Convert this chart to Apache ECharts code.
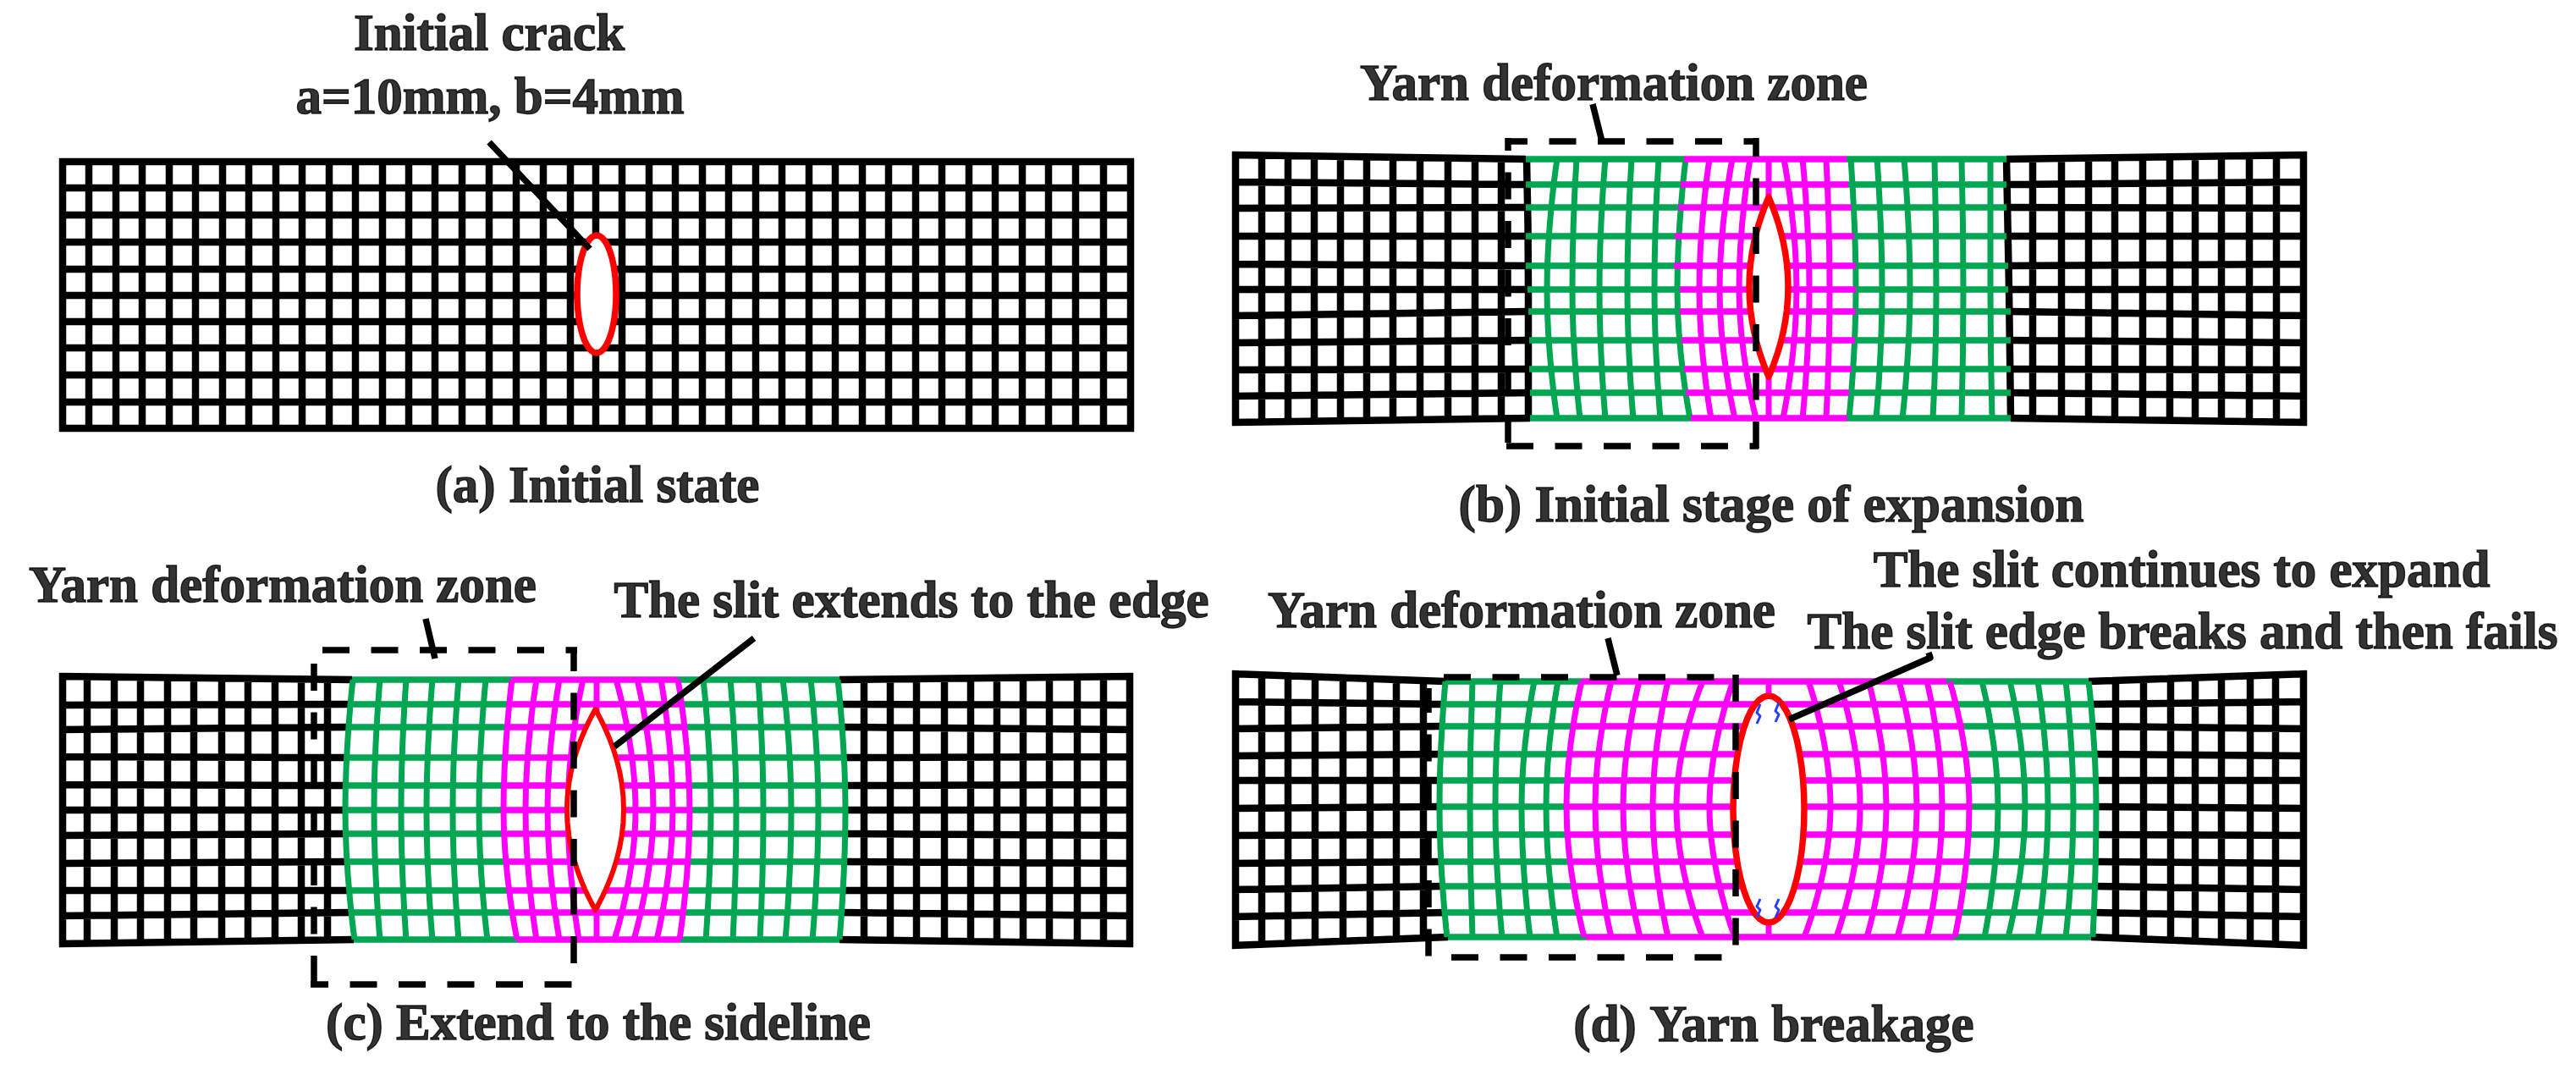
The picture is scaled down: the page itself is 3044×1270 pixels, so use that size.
<!DOCTYPE html>
<html>
<head>
<meta charset="utf-8">
<style>
html,body{margin:0;padding:0;background:#fff}
#chart{width:3044px;height:1270px;filter:blur(0.5px)}
</style>
<script src="https://cdn.jsdelivr.net/npm/echarts@6/dist/echarts.min.js"></script>
</head>
<body>
<div id="chart"></div>
<script>
// ---- panel (a)
const aCols=[74,105,137,168,200,231,263,294,326,357,389,420,452,483,514,546,578,610,642,674,704,735,767,798,830,861,893,924,956,987,1019,1050,1082,1113,1145,1176,1208,1239,1271,1304,1336];
const aRows=[191,222,254,286,318,349,380,411,443,475,506];
const aCrack=[705,278,417,23];   // centre x, top y, bottom y, half width
// ---- panel (b)
const bColsBlack=[1460,1491,1522,1553,1584,1615,1646,1678,1711,1743,1774,2402,2436,2468,2499,2532,2564,2594,2625,2658,2690,2722];
const bColsBound=[[1804,1806,1806],[2371,2374,2376]];
const bColsGreen=[[1840,1828,1840],[1863,1858,1867],[1897,1890,1897],[1928,1923,1930],[1960,1955,1962],[1992,1982,1997],[2187,2193,2185],[2218,2224,2217],[2250,2257,2248],[2286,2288,2284],[2318,2320,2318],[2352,2352,2354]];
const bColsPink=[[2020,2008,2022],[2047,2032,2050],[2068,2055,2075],[2090,2090,2090],[2108,2123,2107],[2130,2138,2130],[2158,2162,2158]];
const bRowsEdge=[183,215,246,279,312,342,373,405,437,468,499];
const bRowsInner=[188,218,245,279,314,342,368,402,436,464,494];
const bBlackEndL=[1803,1803,1803,1803,1803,1805,1806,1807,1807,1808,1808];
const bPinkL=[1990,1986,1983,1979,1978,1985,1985,1987,1990,1992,1998];
const bPinkR=[2182,2184,2188,2191,2193,2193,2193,2192,2188,2185,2183];
const bBlackEndR=[2371,2371,2371,2371,2373,2373,2376,2376,2376,2376,2376];
const bCrack=[2090,233,445,23];
// ---- panel (c)
const cColsBlack=[74,103,135,166,198,229,262,293,325,356,387,1021,1052,1083,1116,1147,1178,1209,1240,1273,1304,1335];
const cColsBound=[];
const cColsGreen=[[417,408,419],[449,442,449],[480,474,480],[511,504,511],[542,535,542],[574,566,576],[831,840,834],[863,870,866],[896,902,898],[925,935,928],[958,967,960],[990,999,992]];
const cColsPink=[[605,595,611],[634,621,634],[661,647,661],[689,671,684],[705,705,705],[728,751,726],[753,772,749],[781,795,776],[801,815,803]];
const cRowsEdge=[799,833,862,894,927,957,987,1020,1052,1082,1115];
const cRowsInner=[803,832,859,895,928,957,985,1018,1052,1078,1110];
const cBlackEndL=[416,411,409,408,407,407,408,409,411,413,418];
const cPinkL=[605,602,597,595,593,593,593,597,602,606,611];
const cPinkR=[801,808,809,813,815,815,815,813,811,808,804];
const cBlackEndR=[992,994,997,999,1001,1001,999,999,997,994,992];
const cCrack=[703.5,838,1075,33.5];
// ---- panel (d)
const dColsBlack=[1460,1491,1522,1554,1587,1619,1650,1682,2500,2533,2565,2594,2625,2659,2689,2722];
const dColsBound=[];
const dColsGreen=[[1708,1701,1710],[1740,1737,1740],[1773,1767,1775],[1813,1798,1808],[1841,1827,1840],[2342,2361,2345],[2375,2393,2373],[2408,2420,2408],[2441,2450,2441],[2468,2477,2473]];
const dColsPink=[[1869,1851,1872],[1904,1885,1904],[1937,1918,1938],[1971,1953,1971],[2012,1981,2012],[2048,2020,2050],[2090,2090,2090],[2137,2163,2132],[2173,2198,2170],[2208,2229,2206],[2244,2265,2242],[2277,2295,2277],[2304,2327,2310]];
const dRowsEdge=[796,829,861,893,922,955,987,1020,1051,1083,1117];
const dRowsInner=[805,832,858,891,922,953,986,1018,1047,1078,1107];
const dBlackEndL=[1708,1707,1703,1701,1700,1700,1700,1701,1703,1710,1711];
const dPinkL=[1869,1864,1860,1856,1851,1850,1850,1854,1860,1869,1874];
const dPinkR=[2300,2308,2321,2326,2327,2328,2328,2326,2321,2316,2309];
const dBlackEndR=[2468,2473,2475,2477,2477,2477,2477,2477,2475,2473,2471];
const dCrack=[2090,822,1090,42];
const dBlue=[[2080,832],[2076,842],[2080,846],[2076,855]];
const dBlue2=[[2102,830],[2098,840],[2102,844],[2098,853]];
const dBlue3=[[2080,1062],[2076,1071],[2080,1075],[2076,1084]];
const dBlue4=[[2102,1062],[2098,1071],[2102,1075],[2098,1084]];
// ---- dashed zones: x1,y1,x2,y2,phase
const zoneB=[[1782,167,2078,167,9],[2075,163,2075,530,10],[1780,527,2078,527,0],[1782,163,1782,530,17]];
const zoneC=[[381,768,682,768,0],[678,765,678,1138,4],[367,1163,678,1163,11],[371,784,371,1167,0]];
const zoneD=[[1706,800,2026,800,0],[2051,797,2051,1122,0],[1715,1131,2036,1131,0],[1688,813,1688,1135,3]];
// ---- leader lines
const leaders=[[[578,168],[697,294]],[[1882,123],[1893,167]],[[503,731],[514,778]],[[891,754],[726,882]],[[2279,771],[2281,777],[2114,850]],[[1900,754],[1911,798]]];
// ---- texts: label, centre x, baseline y
const texts=[
 ["Initial crack",578,63],["a=10mm, b=4mm",579,138],["(a) Initial state",706,597],
 ["Yarn deformation zone",1907,122],["(b) Initial stage of expansion",2093,620],
 ["Yarn deformation zone",334,715],["The slit extends to the edge",1077,733],["(c) Extend to the sideline",707,1232],
 ["The slit continues to expand",2578,697],["The slit edge breaks and then fails",2579,770],["Yarn deformation zone",1798,745],["(d) Yarn breakage",2096,1234]
];

const BLACK='#000000',GREEN='#00A651',PINK='#FF00FF',RED='#FF0000',BLUE='#2a3cff';
const BRK=[null,null];
const series=[];
function lineSeries(data,color,width,smooth,extra,z){
  series.push(Object.assign({type:'line',z:z||3,data:data,symbol:'none',smooth:smooth?0.5:false,clip:false,silent:true,animation:false,
    connectNulls:false,lineStyle:{color:color,width:width,cap:'butt',join:'round'}},extra||{}));
}
function colSegs(cols,yT,yM,yB){const o=[];cols.forEach(c=>{o.push([c[0],yT],[c[1],yM],[c[2],yB],BRK);});return o;}
function panel(colsBlack,colsBound,colsGreen,colsPink,rowsEdge,rowsInner,endL,pinkL,pinkR,endR){
  const k=[],g=[],p=[];
  const xL=colsBlack[0],xR=colsBlack[colsBlack.length-1],n=rowsEdge.length-1;
  // a black yarn ends on the outer rows, which run straight from the panel edge to the coloured zone
  function endY(x,i){
    const t=x<endL[i]?(x-xL)/(endL[i]-xL):(xR-x)/(xR-endR[i]);
    return rowsEdge[i]+(rowsInner[i]-rowsEdge[i])*t;
  }
  colsBlack.forEach(x=>k.push([x,endY(x,0)-4],[x,endY(x,n)+4],BRK));
  rowsEdge.forEach((y,i)=>{
    const yi=rowsInner[i];
    k.push([xL-4,y],[endL[i],yi],BRK,[endR[i],yi],[xR+4,y],BRK);
    g.push([endL[i],yi],[pinkL[i],yi],BRK,[pinkR[i],yi],[endR[i],yi],BRK);
    p.push([pinkL[i],yi],[pinkR[i],yi],BRK);
  });
  lineSeries(k,BLACK,8.5,false);
  lineSeries(colSegs(colsBound,rowsInner[0],rowsInner[5],rowsInner[n]),BLACK,8.5,true);
  lineSeries(g,GREEN,7.5,false);
  lineSeries(colSegs(colsGreen,rowsInner[0],rowsInner[5],rowsInner[n]),GREEN,7,true);
  lineSeries(p,PINK,7.5,false);
  lineSeries(colSegs(colsPink,rowsInner[0],rowsInner[5],rowsInner[n]),PINK,7,true);
}
// outline of a slit: 'round' is an ellipse, 'lens' has pointed tips (two parabolic arcs)
function crackOutline(c,kind){
  const cx=c[0],cy=(c[1]+c[2])/2,ry=(c[2]-c[1])/2,w=c[3],pts=[],N=48;
  for(let i=0;i<N;i++){
    const a=2*Math.PI*i/N,s=-Math.cos(a),side=Math.sin(a);
    const hw=kind==='round'?Math.abs(side)*w:(1-s*s)*w;
    pts.push([cx+(side>=0?hw:-hw),cy+s*ry]);
  }
  return pts;
}
function crackSeries(c,kind,w){
  const pts=crackOutline(c,kind);
  series.push({type:'custom',z:4,coordinateSystem:'cartesian2d',silent:true,animation:false,clip:false,data:[pts[0]],
    renderItem:function(params,api){
      return {type:'polygon',shape:{points:pts.map(q=>api.coord(q))},
        style:{fill:'#ffffff',stroke:RED,lineWidth:w,lineJoin:'round'}};
    }});
}
function zone(sides){
  sides.forEach(s=>lineSeries([[s[0],s[1]],[s[2],s[3]]],BLACK,7.5,false,
    {lineStyle:{color:BLACK,width:7.5,cap:'butt',type:[32,25.5],dashOffset:s[4]}},5));
}
// panel a
(function(){const k=[];const n=aRows.length-1;
  aCols.forEach(x=>k.push([x,aRows[0]-4],[x,aRows[n]+4],BRK));
  aRows.forEach(y=>k.push([aCols[0]-4,y],[aCols[aCols.length-1]+4,y],BRK));
  lineSeries(k,BLACK,8.5,false);})();
panel(bColsBlack,bColsBound,bColsGreen,bColsPink,bRowsEdge,bRowsInner,bBlackEndL,bPinkL,bPinkR,bBlackEndR);
panel(cColsBlack,cColsBound,cColsGreen,cColsPink,cRowsEdge,cRowsInner,cBlackEndL,cPinkL,cPinkR,cBlackEndR);
panel(dColsBlack,dColsBound,dColsGreen,dColsPink,dRowsEdge,dRowsInner,dBlackEndL,dPinkL,dPinkR,dBlackEndR);
crackSeries(aCrack,'round',7.5);
crackSeries(bCrack,'lens',7.5);
crackSeries(cCrack,'lens',6);
crackSeries(dCrack,'round',7.5);
[dBlue,dBlue2,dBlue3,dBlue4].forEach(b=>lineSeries(b,BLUE,3,false,null,5));
zone(zoneB);zone(zoneC);zone(zoneD);
const lead=[];leaders.forEach(l=>{l.forEach(q=>lead.push(q));lead.push(BRK);});
lineSeries(lead,BLACK,7.5,false,null,5);
series.push({type:'scatter',z:6,silent:true,animation:false,clip:false,symbolSize:1,itemStyle:{color:'rgba(0,0,0,0)'},
  data:texts.map(t=>({name:t[0],value:[t[1],t[2]-20]})),
  label:{show:true,position:'inside',align:'center',verticalAlign:'middle',formatter:p=>p.name,
    color:'#000',textBorderColor:'#000',textBorderWidth:1.5,fontFamily:'"Liberation Serif"',fontWeight:'bold',fontSize:61}});

const chart=echarts.init(document.getElementById('chart'),null,{renderer:'canvas',width:3044,height:1270});
chart.setOption({animation:false,backgroundColor:'#ffffff',tooltip:{show:false},legend:{show:false},
  grid:{left:0,right:0,top:0,bottom:0,containLabel:false},
  xAxis:{type:'value',min:0,max:3044,show:false},
  yAxis:{type:'value',min:0,max:1270,inverse:true,show:false},
  series:series});
</script>
</body>
</html>
